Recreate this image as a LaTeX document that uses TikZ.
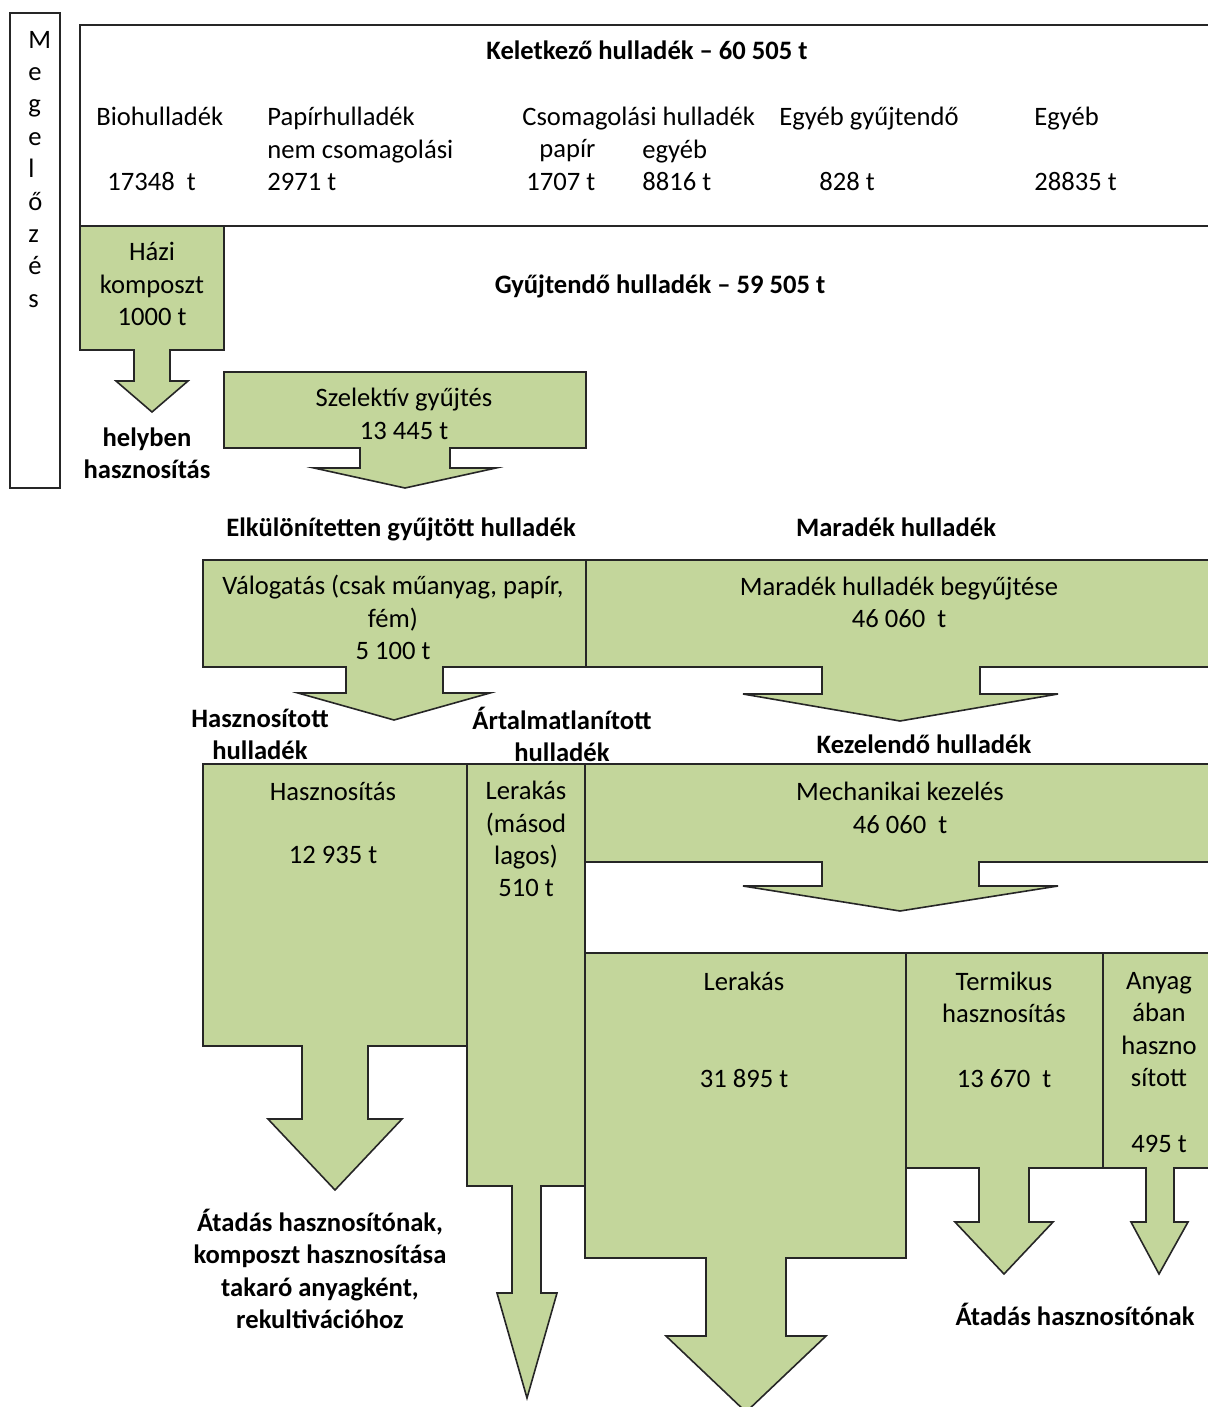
\documentclass[tikz,border=0pt]{standalone}
\usepackage{fontspec}
\setmainfont{Carlito}
\definecolor{boxgreen}{HTML}{C3D69B}
\definecolor{edge}{HTML}{262626}
\begin{document}
\begin{tikzpicture}[x=0.5pt,y=-0.5pt,
  shape box/.style={draw=edge, line width=0.8pt, fill=boxgreen, line join=miter},
  plain box/.style={draw=edge, line width=0.8pt, fill=white},
  txt/.style={inner sep=0pt, font=\fontsize{13.3}{16.2}\selectfont, align=center,
    execute at begin node=\strut, execute at end node=\strut},
  btxt/.style={txt, font=\fontsize{13.3}{16.2}\selectfont\bfseries},
  ltxt/.style={txt, align=left, anchor=west}]
\useasboundingbox (0,0) rectangle (1207,1407);

% Megelozes frame
\draw[plain box] (10,13) rectangle (60,488);
\node[ltxt] (meg) at (28,174) {M\\e\\g\\e\\l\\ő\\z\\é\\s};

% top frame
\draw[draw=edge, line width=0.8pt] (1215,25) -- (80,25) -- (80,226) -- (1215,226);

% Hazi komposzt
\draw[shape box] (80,226) -- (224,226) -- (224,350) -- (170,350) -- (170,381) -- (188,381)
  -- (152,412) -- (116,381) -- (134,381) -- (134,350) -- (80,350) -- cycle;
% Szelektiv
\draw[shape box] (224,372) -- (586,372) -- (586,448) -- (450,448) -- (450,468) -- (496,468)
  -- (405,488) -- (314,468) -- (360,468) -- (360,448) -- (224,448) -- cycle;
% Valogatas
\draw[shape box] (203,560) -- (586,560) -- (586,667) -- (443,667) -- (443,693) -- (490,693)
  -- (394,720) -- (298,693) -- (346,693) -- (346,667) -- (203,667) -- cycle;
% Maradek begyujtese
\draw[shape box] (586,560) -- (1215,560) -- (1215,667) -- (980,667) -- (980,694) -- (1058,694)
  -- (900,721) -- (743,694) -- (822,694) -- (822,667) -- (586,667) -- cycle;
% Hasznositas
\draw[shape box] (203,764) -- (467,764) -- (467,1046) -- (368,1046) -- (368,1119) -- (402,1119)
  -- (335,1190) -- (268,1119) -- (302,1119) -- (302,1046) -- (203,1046) -- cycle;
% Lerakas (masodlagos)
\draw[shape box] (467,764) -- (585,764) -- (585,1186) -- (541,1186) -- (541,1293) -- (557,1293)
  -- (527,1398) -- (497,1293) -- (512,1293) -- (512,1186) -- (467,1186) -- cycle;
% Mechanikai kezeles
\draw[shape box] (585,764) -- (1215,764) -- (1215,862) -- (979,862) -- (979,886) -- (1058,886)
  -- (900,911) -- (743,886) -- (822,886) -- (822,862) -- (585,862) -- cycle;
% Lerakas
\draw[shape box] (585,953) -- (906,953) -- (906,1258) -- (786,1258) -- (786,1336) -- (826,1336)
  -- (746,1412) -- (666,1336) -- (706,1336) -- (706,1258) -- (585,1258) -- cycle;
% Termikus
\draw[shape box] (906,953) -- (1103,953) -- (1103,1168) -- (1029,1168) -- (1029,1222) -- (1053,1222)
  -- (1004,1274) -- (955,1222) -- (979,1222) -- (979,1168) -- (906,1168) -- cycle;
% Anyagaban
\draw[shape box] (1103,953) -- (1215,953) -- (1215,1168) -- (1174,1168) -- (1174,1222) -- (1188,1222)
  -- (1159,1274) -- (1131,1222) -- (1146,1222) -- (1146,1168) -- (1103,1168) -- cycle;

% top texts
\node[btxt] (kelet) at (647,53) {Keletkező hulladék – 60 505 t};
\node[ltxt] (bio) at (96,119) {Biohulladék};
\node[ltxt] (bion) at (107,184) {17348~~t};
\node[ltxt] (pap) at (267,154) {Papírhulladék\\nem csomagolási\\2971 t};
\node[ltxt] (csom) at (522,119) {Csomagolási hulladék};
\node[ltxt] (csp) at (539,151) {papír};
\node[ltxt] (cspn) at (526,184) {1707 t};
\node[ltxt] (cse) at (642,170) {egyéb\\8816 t};
\node[ltxt] (egy) at (779,119) {Egyéb gyűjtendő};
\node[ltxt] (egyn) at (819,184) {828 t};
\node[ltxt] (egyeb) at (1034,119) {Egyéb};
\node[ltxt] (egyebn) at (1034,184) {28835 t};

\node[txt] (hazi) at (152,289) {Házi\\komposzt\\1000 t};
\node[btxt] (gyujt) at (660,287) {Gyűjtendő hulladék – 59 505 t};
\node[btxt] (helyben) at (147,458) {helyben\\hasznosítás};
\node[txt] (szel) at (404,418.5) {Szelektív gyűjtés\\13 445 t};
\node[btxt] (elk) at (401,530) {Elkülönítetten gyűjtött hulladék};
\node[btxt] (mar) at (896,530) {Maradék hulladék};
\node[txt] (val) at (393,622.5) {Válogatás (csak műanyag, papír,\\fém)\\5 100 t};
\node[txt] (marb) at (899,607) {Maradék hulladék begyűjtése\\46 060~~t};
\node[btxt] (haszt) at (260,739) {Hasznosított\\hulladék};
\node[btxt] (artal) at (562,739) {Ártalmatlanított\\hulladék};
\node[btxt] (kez) at (924,747) {Kezelendő hulladék};
\node[txt] (hasz) at (333,794) {Hasznosítás};
\node[txt] (haszn) at (333,857) {12 935 t};
\node[txt] (ler2) at (526,844) {Lerakás\\(másod\\lagos)\\510 t};
\node[txt] (mech) at (900,812.5) {Mechanikai kezelés\\46 060~~t};
\node[txt] (ler) at (744,984) {Lerakás};
\node[txt] (lern) at (744,1081) {31 895 t};
\node[txt] (term) at (1004,1002) {Termikus\\hasznosítás};
\node[txt] (termn) at (1004,1081) {13 670~~t};
\node[txt] (any) at (1159,1034.5) {Anyag\\ában\\haszno\\sított};
\node[txt] (anyn) at (1159,1146) {495 t};
\node[btxt] (atad1) at (320,1273.5) {Átadás hasznosítónak,\\komposzt hasznosítása\\takaró anyagként,\\rekultivációhoz};
\node[btxt] (atad2) at (1075,1319) {Átadás hasznosítónak};
\end{tikzpicture}
\end{document}
